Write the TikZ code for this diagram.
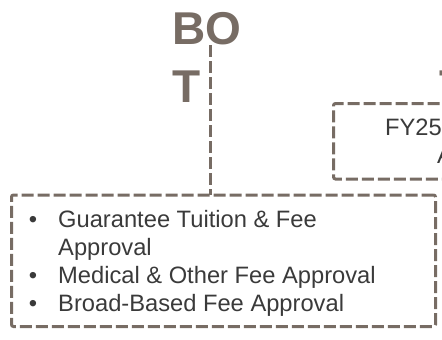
\documentclass[tikz,border=0pt]{standalone}
\usepackage{fontspec}
\setmainfont{Liberation Sans}
\definecolor{frame}{HTML}{776C64}
\definecolor{body}{HTML}{3A3A3A}
\begin{document}
\begin{tikzpicture}[x=1pt,y=-1pt,
  dashbox/.style={draw=frame, line width=3pt, dash pattern=on 12pt off 4pt,
    rounded corners=2pt, inner sep=0pt, outer sep=0pt},
  dashline/.style={draw=frame, line width=3pt, dash pattern=on 12pt off 4pt},
  title/.style={font=\fontsize{46}{55}\selectfont\bfseries, text=frame,
    inner sep=0pt, anchor=base west},
  item/.style={font=\fontsize{23.7}{28}\selectfont, text=body,
    inner sep=0pt, anchor=base west},
  bul/.style={font=\fontsize{23.7}{28}\selectfont, text=body,
    inner sep=0pt, anchor=base}]

\useasboundingbox (0,0) rectangle (442,340);
\clip (0,0) rectangle (442,340);

% Board title, wrapped over two lines
\node[title] (boA) at (172,45) {BO};
\node[title] (boB) at (172,102) {T};
\coordinate (bostem) at (210,45);

% neighbouring title at the right edge
\node[title] (rtA) at (440.5,45) {B};
\node[title] (rtB) at (439,102) {T};

% FY25 box, running on past the right edge
\node[dashbox, minimum width=300pt, minimum height=75.5pt] (fy) at (483.5,141.25) {};
\node[item] (fyA) at (385,135) {FY25};
\node[item] (fyB) at (437,163) {A};

% approvals box
\node[dashbox, minimum width=424pt, minimum height=131.5pt] (items) at (223.5,260.75) {};
\node[bul] (b1) at (33,227) {\textbullet};
\node[item] (t1) at (58,227) {Guarantee Tuition \& Fee};
\node[item] (t1b) at (58,255) {Approval};
\node[bul] (b2) at (33,283) {\textbullet};
\node[item] (t2) at (58,283) {Medical \& Other Fee Approval};
\node[bul] (b3) at (33,311) {\textbullet};
\node[item] (t3) at (58,311) {Broad-Based Fee Approval};

% connector from the title down to the box
\draw[dashline] (bostem) -- (bostem |- items.north);
\end{tikzpicture}
\end{document}
